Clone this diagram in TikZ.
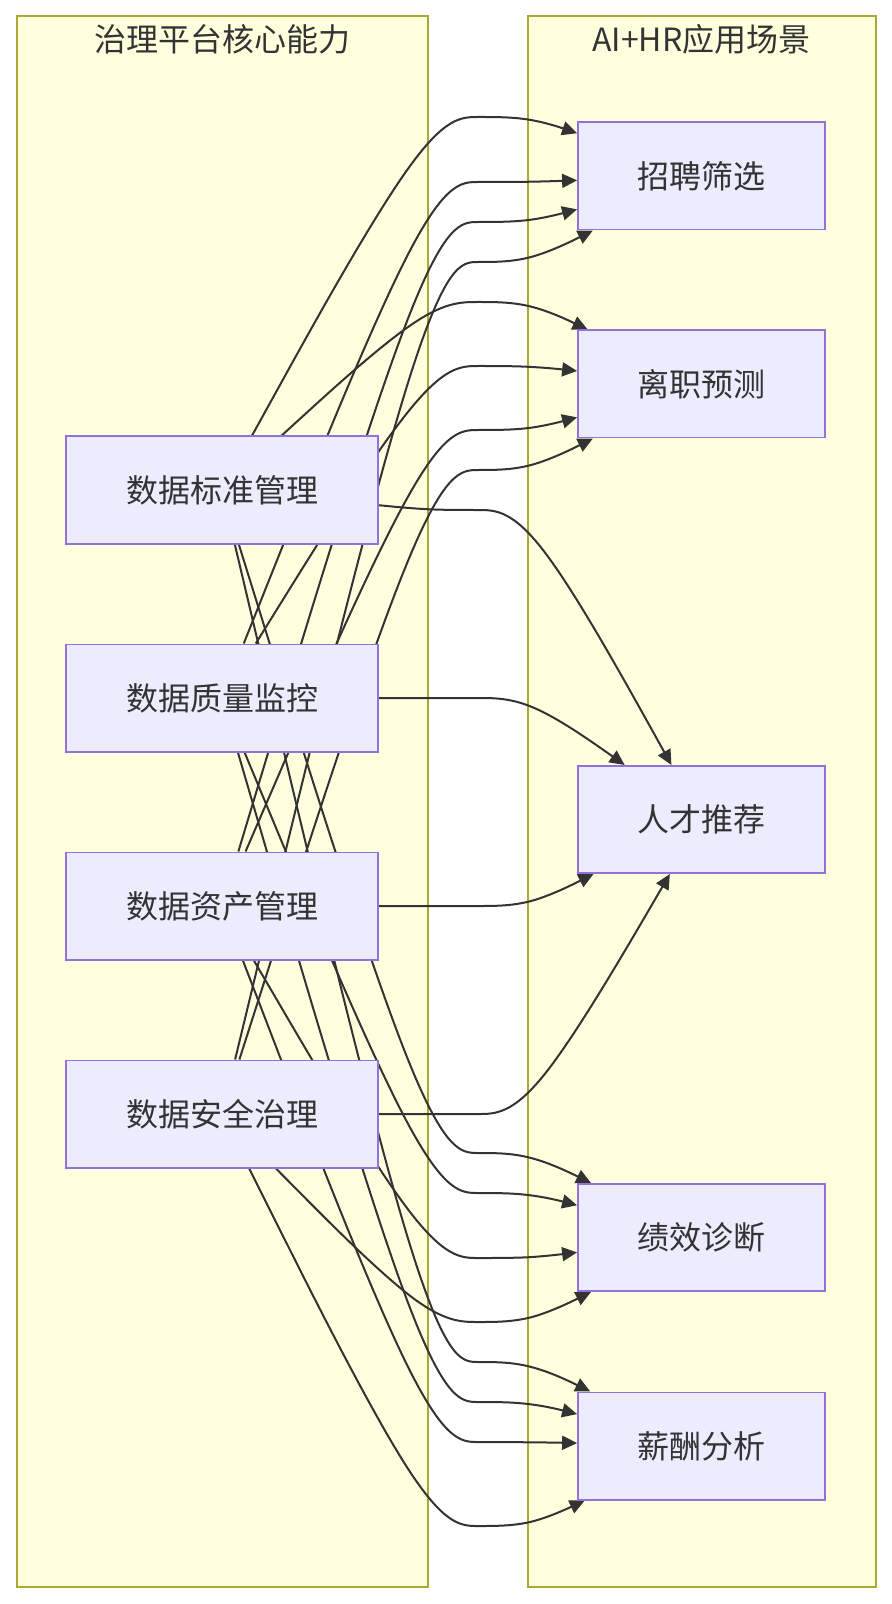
\documentclass[tikz,border=0pt]{standalone}
\usepackage{fontspec}
\setmainfont{Noto Sans CJK SC}
\usetikzlibrary{arrows.meta,calc}
\definecolor{grpfill}{HTML}{FFFFDE}
\definecolor{grpline}{HTML}{AAAA33}
\definecolor{boxfill}{HTML}{ECECFF}
\definecolor{boxline}{HTML}{9370DB}
\definecolor{ink}{HTML}{333333}
\pgfdeclarelayer{back}
\pgfdeclarelayer{wires}
\pgfsetlayers{back,wires,main}
% source node, lane height, target node
\newcommand\hrflow[3]{%
  \path (#1) -- (428,#2) coordinate[pos=0] (p0);
  \path (#3) -- (530,#2) coordinate[pos=0] (p4);
  \draw[flow] (p0) -- ($(p0)!1/6!(428,#2)$)
    .. controls ($(p0)!1/3!(428,#2)$) and ($(p0)!2/3!(428,#2)$)
    .. ($0.1667*(p0)+0.6667*(428,#2)+0.1667*(478,#2)$)
    .. controls (444.7,#2) and (461.3,#2) .. (478.3,#2)
    .. controls (495.3,#2) and (512.7,#2)
    .. ($0.1667*(478,#2)+0.6667*(530,#2)+0.1667*(p4)$)
    .. controls ($(530,#2)!1/3!(p4)$) and ($(530,#2)!2/3!(p4)$) .. (p4);
}

\begin{document}
\begin{tikzpicture}[x=0.5pt,y=-0.5pt,font=\fontsize{16pt}{19pt}\selectfont,
 grp/.style={draw=grpline,fill=grpfill,line width=1pt},
 ttl/.style={text=ink,inner sep=0pt},
 capbox/.style={draw=boxline,fill=boxfill,line width=0.9pt,text=ink,inner sep=0pt,minimum width=156pt,minimum height=53.6pt},
 scenebox/.style={capbox,minimum width=123.6pt},
 flow/.style={draw=ink,line width=1pt,-{Triangle[length=7.5pt,width=7pt]}}]
\useasboundingbox (0,0) rectangle (892,1604);
\node[capbox] (bz) at (222,490) {数据标准管理};
\node[capbox] (zl) at (222,698) {数据质量监控};
\node[capbox] (zc) at (222,906) {数据资产管理};
\node[capbox] (aq) at (222,1114) {数据安全治理};
\node[scenebox] (zp) at (701.6,176) {招聘筛选};
\node[scenebox] (lz) at (701.6,384) {离职预测};
\node[scenebox] (rc) at (701.6,819.5) {人才推荐};
\node[scenebox] (jx) at (701.6,1237.6) {绩效诊断};
\node[scenebox] (xc) at (701.6,1446) {薪酬分析};
\begin{pgfonlayer}{back}
\draw[grp] (16.5,16.5) rectangle (427.5,1587);
\draw[grp] (527.5,16.5) rectangle (875.5,1587);
\end{pgfonlayer}
\node[ttl] (gl) at (222,39) {治理平台核心能力};
\node[ttl] (gr) at (701.5,39) {AI+HR应用场景};
\begin{pgfonlayer}{wires}
\hrflow{bz}{117}{zp} \hrflow{zl}{182}{zp} \hrflow{zc}{222}{zp} \hrflow{aq}{262}{zp}
\hrflow{bz}{302}{lz} \hrflow{zl}{366}{lz} \hrflow{zc}{430}{lz} \hrflow{aq}{470}{lz}
\hrflow{bz}{510}{rc} \hrflow{zl}{698}{rc} \hrflow{zc}{906}{rc} \hrflow{aq}{1114}{rc}
\hrflow{bz}{1153}{jx} \hrflow{zl}{1193}{jx} \hrflow{zc}{1258}{jx} \hrflow{aq}{1322}{jx}
\hrflow{bz}{1362}{xc} \hrflow{zl}{1402}{xc} \hrflow{zc}{1442}{xc} \hrflow{aq}{1526}{xc}
\end{pgfonlayer}
\end{tikzpicture}
\end{document}
